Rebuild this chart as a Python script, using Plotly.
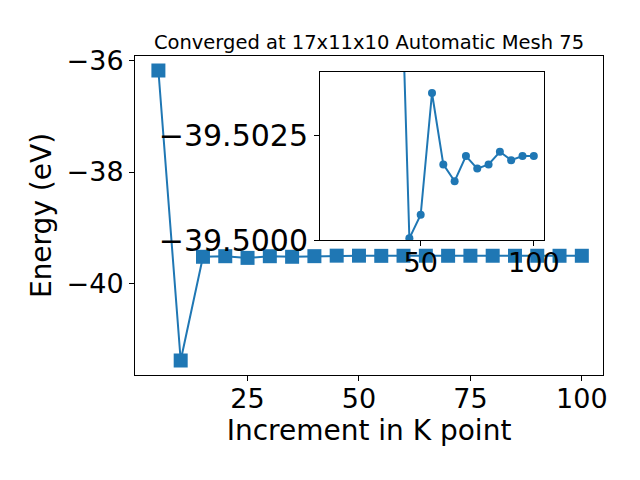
import plotly.graph_objects as go

kpoints = [5, 10, 15, 20, 25, 30, 35, 40, 45, 50, 55, 60, 65, 70, 75, 80, 85, 90, 95, 100]
energy = [-36.18, -41.38, -39.52, -39.51, -39.54, -39.51, -39.52, -39.509,
          -39.50004, -39.5006, -39.5035, -39.5018, -39.5014, -39.5020,
          -39.5017, -39.5018, -39.5021, -39.5019, -39.5020, -39.5020]
title = "Converged at 17x11x10 Automatic Mesh 75"
xlabel = "Increment in K point"
ylabel = "Energy (eV)"
inset_yticks = [-39.5000, -39.5025]
inset_yticktext = ["\u221239.5000", "\u221239.5025"]

color = "#1f77b4"
font = "DejaVu Sans"

# page body has an 8px margin; compensate so the plot lands at the reference position
L, R, T, B = 127, 595, 48, 367   # plot area in figure px
W, H = 640, 480

fig = go.Figure()
fig.add_trace(go.Scatter(
    x=kpoints, y=energy, mode="lines+markers",
    line=dict(color=color, width=2),
    marker=dict(symbol="square", size=14, color=color),
    xaxis="x", yaxis="y", showlegend=False))
fig.add_trace(go.Scatter(
    x=kpoints[1:], y=energy[1:], mode="lines+markers",
    line=dict(color=color, width=2),
    marker=dict(symbol="circle", size=8, color=color),
    xaxis="x2", yaxis="y2", showlegend=False))


def axis_common(size):
    return dict(showline=True, linecolor="black", linewidth=1, mirror=True,
                ticks="outside", ticklen=5, tickcolor="black", showgrid=False,
                zeroline=False, tickfont=dict(family=font, size=size, color="black"))


pw, ph = R - L, B - T
fig.update_layout(
    width=W, height=H,
    margin=dict(l=L, r=W - R, t=T, b=H - B),
    plot_bgcolor="white", paper_bgcolor="white",
    font=dict(family=font, color="black"),
    title=dict(text=title, x=(L + R) / 2 / W, xanchor="center",
               y=1 - 34 / H, yanchor="middle",
               font=dict(family=font, size=19.5, color="black")),
    xaxis=dict(domain=[0, 1], range=[-0.25, 104.75], tickvals=[25, 50, 75, 100],
               ticklabelstandoff=-5,
               title=dict(text=xlabel, font=dict(family=font, size=28), standoff=4),
               **axis_common(27)),
    yaxis=dict(domain=[0, 1], range=[-41.64, -35.92], tickvals=[-36, -38, -40],
               title=dict(text=ylabel, font=dict(family=font, size=28), standoff=6),
               **axis_common(27)),
    xaxis2=dict(domain=[(320 - 135) / pw, (544 - 135) / pw], anchor="y2",
                range=[5.5, 104.5], tickvals=[50, 100], ticklabelstandoff=-6,
                **axis_common(27)),
    yaxis2=dict(domain=[(375 - 240) / ph, (375 - 72) / ph], anchor="x2",
                range=[-39.5000, -39.5040], tickvals=inset_yticks,
                ticktext=inset_yticktext, **axis_common(30)),
)

fig.write_html("out.html")
